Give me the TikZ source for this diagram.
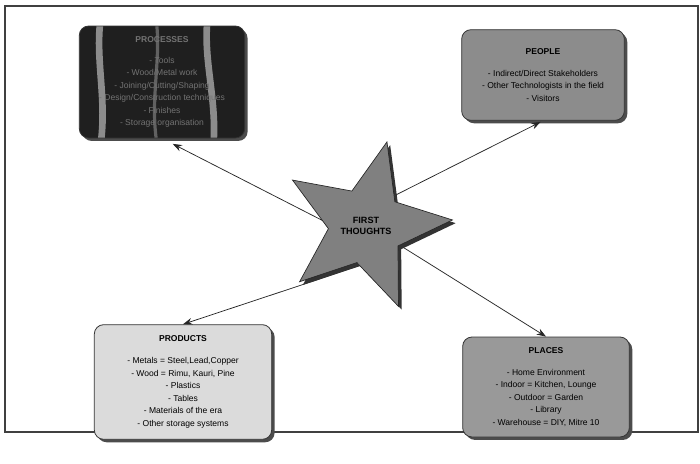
\documentclass[tikz,border=0pt]{standalone}
\usepackage{fontspec}
\setmainfont{Liberation Sans}
\usetikzlibrary{arrows.meta,shapes.geometric,shadows}
\tikzset{
    ideabox/.style={draw=black!80, line width=0.6pt, rounded corners=7pt, align=center,
        font=\fontsize{6.4}{9.4}\selectfont, inner sep=2pt,
        drop shadow={shadow xshift=2.2pt, shadow yshift=-2.2pt, fill=black!70, opacity=1}},
    ideaarrow/.style={-{Stealth[length=7pt, width=5pt]}, black!85, line width=0.55pt},
    ideastar/.style={star, star points=5, star point ratio=2.3, shape border rotate=-14,
        minimum size=130pt, inner sep=0pt, draw=black!85, line width=0.5pt, fill=black!50,
        font=\fontsize{6.8}{8}\selectfont\bfseries, align=center,
        drop shadow={shadow xshift=2.4pt, shadow yshift=-2.4pt, fill=black!80, opacity=1}},
    stripe/.style={black!45, line width=5pt, line cap=round}
}
\begin{document}
\begin{tikzpicture}[x=0.75pt, y=-0.75pt]
    \useasboundingbox (0,0) rectangle (700,464);
    \fill[white] (0,0) rectangle (700,464);
    \draw[black!75, line width=1.3pt] (5,6) rectangle (698,432);

    % the four idea boxes
    \node[ideabox, fill=black!88, text=black!55, minimum width=124pt, minimum height=84pt,
        path picture={
            \coordinate (pnw) at (path picture bounding box.north west);
            \draw[stripe] ([shift={(21,-5)}]pnw) .. controls ([shift={(16,35)}]pnw)
                and ([shift={(28,75)}]pnw) .. ([shift={(21,120)}]pnw);
            \draw[stripe, black!62, line width=2.4pt] ([shift={(77,-5)}]pnw) .. controls ([shift={(82,35)}]pnw)
                and ([shift={(70,75)}]pnw) .. ([shift={(78,120)}]pnw);
            \draw[stripe] ([shift={(128,-5)}]pnw) .. controls ([shift={(124,35)}]pnw)
                and ([shift={(138,75)}]pnw) .. ([shift={(134,120)}]pnw);
        }] (procs) at (162,82)
        {\textbf{PROCESSES}\\[6pt] - Tools\\ - Wood/Metal work\\ - Joining/Cutting/Shaping\\
         - Design/Construction techniques\\ - Finishes\\ - Storage organisation};
    \node[ideabox, fill=black!45, minimum width=122pt, minimum height=68pt] (people) at (543,75)
        {\textbf{PEOPLE}\\[7pt] - Indirect/Direct Stakeholders\\ - Other Technologists in the field\\ - Visitors};
    \node[ideabox, fill=black!14, minimum width=133pt, minimum height=86pt] (prods) at (183,382)
        {\textbf{PRODUCTS}\\[7pt] - Metals = Steel,Lead,Copper\\ - Wood = Rimu, Kauri, Pine\\ - Plastics\\
         - Tables\\ - Materials of the era\\ - Other storage systems};
    \node[ideabox, fill=black!40, minimum width=125pt, minimum height=75pt] (places) at (546,387)
        {\textbf{PLACES}\\[7pt] - Home Environment\\ - Indoor = Kitchen, Lounge\\ - Outdoor = Garden\\
         - Library\\ - Warehouse = DIY, Mitre 10};

    % connectors start inside the star
    \coordinate (cproc) at (345,232);
    \coordinate (cpeople) at (370,208);
    \coordinate (cprod) at (380,259);
    \coordinate (cplace) at (385,236);
    \draw[ideaarrow, shorten >=9pt] (cproc) -- (procs.south);
    \draw[ideaarrow, shorten >=2pt] (cpeople) -- (people.south);
    \draw[ideaarrow] (cprod) -- (prods.north);
    \draw[ideaarrow] (cplace) -- (places.north);

    \node[ideastar] (thoughts) at (366,226) {FIRST\\THOUGHTS};
\end{tikzpicture}
\end{document}
